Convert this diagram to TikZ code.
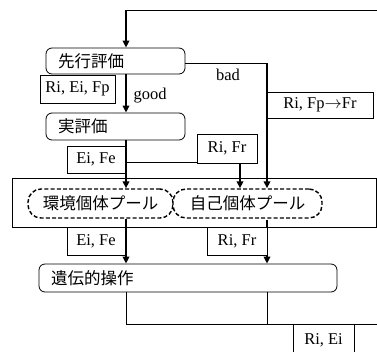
\documentclass[tikz,border=0pt]{standalone}
\usepackage{fontspec}
\setmainfont{Liberation Serif}
\newfontfamily\jp{Noto Sans CJK JP}
\usetikzlibrary{arrows.meta}
\begin{document}
\begin{tikzpicture}[x=1pt,y=-1pt,
  thinl/.style={line width=0.8pt},
  arr/.style={line width=1.8pt,-{Triangle[width=6.5pt,length=7pt]}},
  rbox/.style={draw,thinl,rounded corners=6pt,fill=white,font=\jp\fontsize{16.5}{18}\selectfont,align=left,inner xsep=12pt,inner ysep=2pt},
  lbox/.style={draw,thinl,fill=white,font=\fontsize{16.5}{18}\selectfont,inner xsep=2pt,inner ysep=1pt},
  pool/.style={draw,line width=1.4pt,dash pattern=on 4pt off 2.2pt,rounded corners=13pt,fill=white,font=\jp\fontsize{16.5}{18}\selectfont,inner sep=1pt},
  lab/.style={font=\fontsize{16.5}{18}\selectfont,inner sep=0pt}]
\useasboundingbox (0,0) rectangle (377,351);
\clip (0,0) rectangle (377,351);
% outer frame
\node[draw,thinl,minimum width=364pt,minimum height=49pt,inner sep=0pt] (outer) at (194,202.5) {};
% main boxes
\node[rbox,text width=115pt,minimum height=26pt] (pre) at (115.5,61) {先行評価};
\node[rbox,text width=115pt,minimum height=27pt] (real) at (115.5,126.5) {実評価};
\node[rbox,text width=274pt,minimum height=28pt] (gen) at (188,278) {遺伝的操作};
% pools
\node[pool,minimum width=145pt,minimum height=29pt] (pool1) at (100.5,203.5) {環境個体プール};
\node[pool,minimum width=149pt,minimum height=29pt] (pool2) at (247.5,203.5) {自己個体プール};
% coordinates
\coordinate (topL) at (126,10);
\coordinate (topR) at (377,10);
\coordinate (badR) at (267,63);
\coordinate (xB) at (240,0);
\coordinate (botL) at (126,324);
\coordinate (botM) at (267,324);
\coordinate (botR) at (377,324);
% connectors
\draw[thinl] (topR) -- (topL);
\draw[arr] (topL) -- (topL |- pre.north);
\draw[arr] (topL |- pre.south) -- (topL |- real.north);
\draw[thinl] (pre.east |- badR) -- (badR);
\draw[arr] (badR) -- (badR |- pool2.north);
\draw[arr] (topL |- real.south) -- (topL |- pool1.north);
% label boxes
\node[lbox,minimum width=75pt,minimum height=28pt] (rep) at (77.5,89) {Ri, Ei, Fp};
\node[lbox,minimum width=106pt,minimum height=26pt] (rfp) at (320,105) {Ri, Fp$\rightarrow$Fr};
\node[lbox,minimum width=58pt,minimum height=27pt] (ef1) at (96,159.5) {Ei, Fe};
\node[lbox,minimum width=60pt,minimum height=29pt] (rf1) at (227,148.5) {Ri, Fr};
\draw[thinl] (ef1.east |- 0,162) -- (rf1.west |- 0,162);
\draw[arr] (xB |- rf1.south) -- (xB |- pool2.north);
% lower part
\draw[arr] (topL |- pool1.south) -- (topL |- gen.north);
\draw[arr] ([yshift=-1pt]badR |- pool2.south) -- (badR |- gen.north);
\node[lbox,minimum width=58pt,minimum height=28pt] (ef2) at (96,241) {Ei, Fe};
\node[lbox,minimum width=60pt,minimum height=28pt] (rf2) at (237,241) {Ri, Fr};
\draw[thinl] (topL |- gen.south) -- (botL) -- (botR);
\draw[thinl] (badR |- gen.south) -- (botM);
\node[lbox,minimum width=61pt,minimum height=32pt,anchor=north] (riei) at (323.5,324) {Ri, Ei};
% labels
\node[lab] (good) at (150,96) {good};
\node[lab] (bad) at (228,75) {bad};
\end{tikzpicture}
\end{document}
